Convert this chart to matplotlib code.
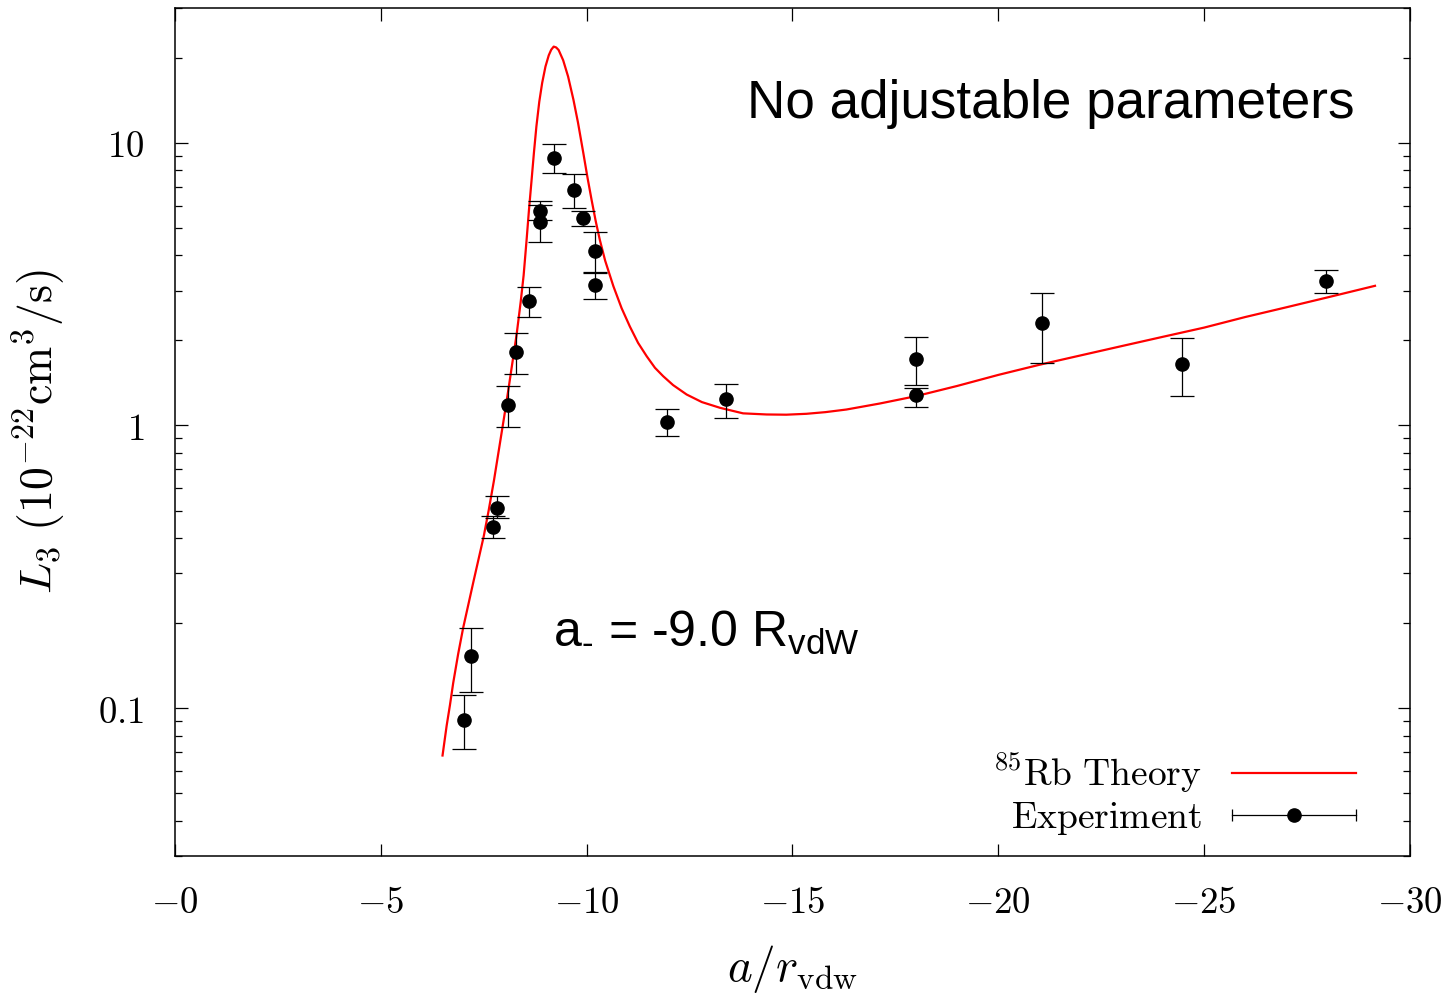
import numpy as np
import matplotlib
matplotlib.use("Agg")
import matplotlib.pyplot as plt
from matplotlib.legend_handler import HandlerBase
from matplotlib.lines import Line2D
from matplotlib.ticker import FixedLocator, FuncFormatter, LogLocator, NullFormatter

# theory curve (85Rb)
theory_x = [-6.5, -6.55, -6.6, -6.68, -6.76, -6.88, -7.0, -7.25, -7.5, -7.62,
            -7.75, -7.88, -8.0, -8.1, -8.2, -8.3, -8.4, -8.47, -8.54, -8.6,
            -8.66, -8.72, -8.78, -8.85, -8.92, -9.0, -9.08, -9.14, -9.2, -9.26,
            -9.32, -9.43, -9.55, -9.68, -9.79, -9.92, -10.02, -10.12, -10.22,
            -10.32, -10.45, -10.65, -10.85, -11.05, -11.25, -11.46, -11.66,
            -11.86, -12.1, -12.43, -12.8, -13.24, -13.8, -14.37, -14.85, -15.34,
            -15.8, -16.31, -17.12, -18.0, -19.0, -20.0, -21.0, -22.0, -23.0,
            -24.0, -25.0, -26.0, -27.0, -28.0, -29.15]
theory_y = [0.068, 0.0768, 0.0867, 0.1025, 0.123, 0.1556, 0.192, 0.28, 0.405, 0.50,
            0.64, 0.84, 1.08, 1.34, 1.68, 2.1, 2.75, 3.4, 4.5, 5.8,
            7.3, 9.23, 11.43, 13.98, 16.29, 18.61, 20.4, 21.35, 21.9, 21.75,
            21.3, 19.6, 17.16, 14.2, 11.8, 9.2, 7.55, 6.29, 5.29,
            4.54, 3.83, 3.11, 2.6, 2.24, 1.96, 1.757, 1.60,
            1.494, 1.39, 1.287, 1.21, 1.155, 1.104, 1.094, 1.092, 1.10,
            1.115, 1.139, 1.196, 1.27, 1.38, 1.51, 1.64, 1.77, 1.91,
            2.06, 2.22, 2.42, 2.62, 2.84, 3.12]

# experiment points with lower / upper error bounds
exp_x = [-7.02, -7.19, -7.73, -7.82, -8.09, -8.28, -8.60, -8.87, -8.87, -9.20,
         -9.69, -9.91, -10.21, -10.21, -11.95, -13.38, -18.0, -18.0, -21.05,
         -24.45, -27.95]
exp_y = [0.091, 0.153, 0.436, 0.509, 1.177, 1.826, 2.765, 5.72, 5.25, 8.87,
         6.82, 5.40, 4.16, 3.15, 1.027, 1.236, 1.715, 1.28, 2.306, 1.656, 3.25]
exp_lo = [0.0715, 0.114, 0.399, 0.47, 0.984, 1.527, 2.42, 5.35, 4.46, 7.79,
          5.88, 5.08, 3.45, 2.80, 0.917, 1.065, 1.39, 1.158, 1.66, 1.276, 2.95]
exp_hi = [0.111, 0.192, 0.477, 0.561, 1.374, 2.13, 3.10, 6.24, 6.04, 9.92,
          7.75, 5.76, 4.85, 3.48, 1.142, 1.40, 2.06, 1.36, 2.95, 2.04, 3.56]

x_ticks = [0, -5, -10, -15, -20, -25, -30]
y_ticks = [0.1, 1, 10]

plt.rcParams['mathtext.fontset'] = 'cm'
plt.rcParams['mathtext.rm'] = 'Liberation Sans'


class HandlerHErr(HandlerBase):
    # gnuplot style key sample: horizontal bar with caps and a dot
    def create_artists(self, legend, orig_handle, xdescent, ydescent,
                       width, height, fontsize, trans):
        y = height / 2 - ydescent
        x0, x1 = -xdescent, width - xdescent
        bar = Line2D([x0, x1], [y, y], color='black', lw=0.9)
        caps = Line2D([x0, x1], [y, y], ls='none', marker='|', ms=9,
                      mew=0.9, color='black')
        dot = Line2D([(x0 + x1) / 2], [y], marker='o', ms=9.5, color='black')
        for a in (bar, caps, dot):
            a.set_transform(trans)
        return [bar, caps, dot]


fig = plt.figure(figsize=(14.53, 9.96), dpi=100)
ax = fig.add_axes([0.1204, 0.1406, 0.8500, 0.8514])

ax.plot(theory_x, theory_y, color='#ff0000', lw=1.6, zorder=2)

exp_y_arr = np.array(exp_y)
yerr = [exp_y_arr - np.array(exp_lo), np.array(exp_hi) - exp_y_arr]
ax.errorbar(exp_x, exp_y, yerr=yerr, fmt='o', color='black', ms=9.5,
            ecolor='black', elinewidth=0.9, capsize=8.5, capthick=0.9, zorder=3)

ax.set_yscale('log')
ax.set_xlim(0, -30)
ax.set_ylim(0.03, 30)

ax.xaxis.set_major_locator(FixedLocator(x_ticks))
ax.xaxis.set_major_formatter(FuncFormatter(lambda v, p: r'$-%d$' % abs(round(v))))
ax.yaxis.set_major_locator(FixedLocator(y_ticks))
ax.yaxis.set_major_formatter(FuncFormatter(lambda v, p: r'$%g$' % v))
ax.yaxis.set_minor_locator(LogLocator(base=10, subs=np.arange(2, 10)))
ax.yaxis.set_minor_formatter(NullFormatter())

ax.tick_params(which='both', direction='in', top=True, right=True, width=0.9)
ax.tick_params(which='major', length=9, labelsize=26.5)
ax.tick_params(which='minor', length=5)
ax.tick_params(axis='x', pad=20)
ax.tick_params(axis='y', pad=22)
for s in ax.spines.values():
    s.set_linewidth(1.1)

ax.set_xlabel(r'$a/r_{\rm vdw}$', fontsize=34, labelpad=16)
ax.set_ylabel(r'$L_3\ (10^{-22}{\rm cm}^3/{\rm s})$', fontsize=33, labelpad=22)

ax.text(0.955, 0.870, 'No adjustable parameters', transform=ax.transAxes,
        ha='right', va='baseline', fontsize=38.2, family='Liberation Sans')
ax.text(0.306, 0.2465, r'a$_{\text{-}}$ = -9.0 R$_{\rm vdW}$', transform=ax.transAxes,
        ha='left', va='baseline', fontsize=36, family='Liberation Sans',
        math_fontfamily='custom')

theory_handle = Line2D([], [], color='#ff0000', lw=1.6)
exp_handle = Line2D([], [], color='black')
ax.legend([theory_handle, exp_handle],
          [r'$^{85}{\rm Rb\ Theory}$', r'${\rm Experiment}$'],
          handler_map={exp_handle: HandlerHErr()},
          loc='lower right', bbox_to_anchor=(0.956, 0.022), frameon=False,
          fontsize=27, markerfirst=False, handlelength=3.3, handletextpad=0.8,
          borderpad=0, borderaxespad=0, labelspacing=0.15)

fig.savefig('out.png', dpi=100)
